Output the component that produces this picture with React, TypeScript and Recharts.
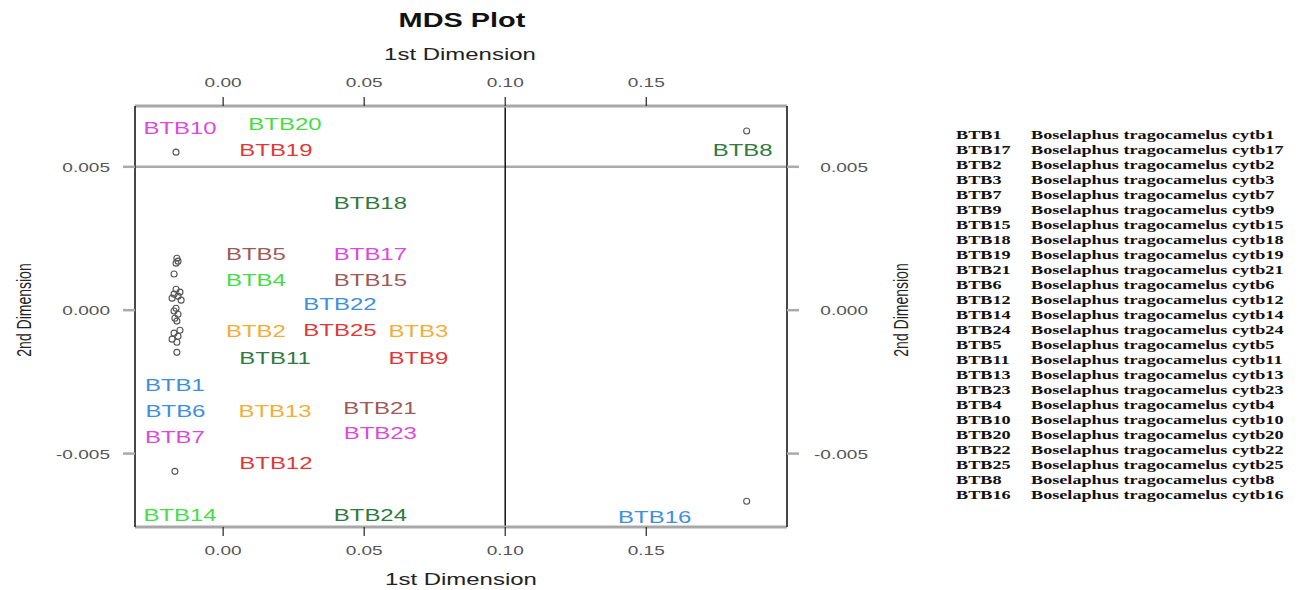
import { ReferenceLine, Scatter, ScatterChart, XAxis, YAxis } from "recharts";

// MDS coordinates of the 25 samples (1st dimension, 2nd dimension)
const pointX = [
  -0.0167, 0.1856, 0.1856, -0.0171,
  -0.0164, -0.016, -0.0167, -0.0174, -0.0167, -0.0153, -0.0174, -0.016, -0.0181, -0.0149,
  -0.0167, -0.0174, -0.016, -0.0171, -0.0164, -0.0153, -0.0174, -0.016, -0.0181, -0.0164, -0.0164,
];
const pointY = [
  0.00551, 0.00625, -0.00666, -0.00562,
  0.00181, 0.00171, 0.00164, 0.00126, 0.00073, 0.00063, 0.00056, 0.00049, 0.00042, 0.00035,
  0.00007, -0.00003, -0.00014, -0.00028, -0.00038, -0.0007, -0.0008, -0.00091, -0.00101, -0.00112, -0.00147,
];

// sample labels and where they were placed
const labelNames = [
  "BTB10", "BTB20", "BTB19", "BTB8", "BTB18", "BTB5", "BTB17", "BTB4", "BTB15",
  "BTB22", "BTB2", "BTB25", "BTB3", "BTB11", "BTB9", "BTB1", "BTB6", "BTB13",
  "BTB21", "BTB7", "BTB23", "BTB12", "BTB14", "BTB24", "BTB16",
];
const labelX = [
  -0.0153, 0.0219, 0.0187, 0.1842, 0.0522, 0.0116, 0.0522, 0.0116, 0.0522,
  0.0414, 0.0116, 0.0414, 0.0692, 0.0184, 0.0692, -0.0171, -0.0169, 0.0184,
  0.0556, -0.0171, 0.0557, 0.0187, -0.0153, 0.0522, 0.153,
];
const labelY = [
  0.00635, 0.00649, 0.00558, 0.00558, 0.00373, 0.00195, 0.00195, 0.00105, 0.00105,
  0.00021, -0.00073, -0.0007, -0.00073, -0.00167, -0.00167, -0.00262, -0.00352, -0.00352,
  -0.00342, -0.00443, -0.00429, -0.00534, -0.00715, -0.00715, -0.00722,
];
// colour group of each label
const labelGroup = [
  0, 1, 2, 3, 3, 4, 0, 1, 4,
  5, 6, 2, 6, 3, 2, 5, 5, 6,
  4, 0, 0, 2, 1, 3, 5,
];

const legendIds = [
  1, 17, 2, 3, 7, 9, 15, 18, 19, 21, 6, 12, 14, 24, 5, 11, 13, 23, 4, 10, 20, 22, 25, 8, 16,
];

const xTicks = [0, 0.05, 0.1, 0.15];
const yTicks = [-0.005, 0, 0.005];
const xRange = [-0.03125, 0.1999];
const yRange = [-0.00756, 0.00712];

const palette = ["#dc4adc", "#46dc46", "#e03838", "#2f7a3c", "#a05a55", "#3f8fe0", "#f2ae36"];
const SX = 1.41;
const SANS = "'Liberation Sans', Arial, sans-serif";

const points = pointX.map((x, i) => ({ x, y: pointY[i] }));
const labels = labelNames.map((name, i) => ({
  x: labelX[i],
  y: labelY[i],
  name,
  group: labelGroup[i],
}));

const tickText = (x: number, y: number, text: string, anchor: string) => (
  <text
    transform={`translate(${x},${y}) scale(${SX},1)`}
    textAnchor={anchor}
    fontSize={13.5}
    fontFamily={SANS}
    fill="#555"
  >
    {text}
  </text>
);

const TopTick = (p: any) => tickText(p.x, p.y - 10, p.payload.value.toFixed(2), "middle");
const BottomTick = (p: any) => tickText(p.x, p.y + 19, p.payload.value.toFixed(2), "middle");
const LeftTick = (p: any) => tickText(p.x - 13, p.y + 5, p.payload.value.toFixed(3), "end");
const RightTick = (p: any) => tickText(p.x + 69, p.y + 5, p.payload.value.toFixed(3), "end");

const Ring = (p: any) => (
  <circle cx={p.cx} cy={p.cy} r={3} fill="none" stroke="#555" strokeWidth={1.1} />
);

const Tag = (p: any) => (
  <text
    transform={`translate(${p.cx},${p.cy + 6}) scale(${SX},1)`}
    textAnchor="middle"
    fontSize={17}
    fontFamily={SANS}
    fill={palette[p.payload.group]}
  >
    {p.payload.name}
  </text>
);

const xAxisLine = { stroke: "#a8a8a8", strokeWidth: 3 };
const yAxisLine = { stroke: "#333", strokeWidth: 1.8 };
const xTickLine = { stroke: "#222", strokeWidth: 1.2 };
const yTickLine = { stroke: "#aaa", strokeWidth: 2.5 };

export default function App() {
  return (
    <div style={{ position: "absolute", left: 0, top: 0, width: 1302, height: 590, background: "#fff" }}>
      <ScatterChart width={1302} height={590} margin={{ top: 6, right: 5, bottom: 5, left: 5 }}>
        <XAxis
          xAxisId="bottom"
          type="number"
          dataKey="x"
          orientation="bottom"
          height={58}
          domain={xRange}
          allowDataOverflow
          ticks={xTicks}
          interval={0}
          tickSize={9}
          tickMargin={0}
          tick={BottomTick}
          axisLine={xAxisLine}
          tickLine={xTickLine}
        />
        <XAxis
          xAxisId="top"
          type="number"
          dataKey="x"
          orientation="top"
          height={100}
          domain={xRange}
          allowDataOverflow
          ticks={xTicks}
          interval={0}
          tickSize={9}
          tickMargin={0}
          tick={TopTick}
          axisLine={xAxisLine}
          tickLine={xTickLine}
        />
        <YAxis
          yAxisId="left"
          type="number"
          dataKey="y"
          width={130}
          domain={yRange}
          allowDataOverflow
          ticks={yTicks}
          interval={0}
          tickSize={12}
          tickMargin={0}
          tick={LeftTick}
          axisLine={yAxisLine}
          tickLine={yTickLine}
        />
        <YAxis
          yAxisId="right"
          type="number"
          dataKey="y"
          orientation="right"
          width={510}
          domain={yRange}
          allowDataOverflow
          ticks={yTicks}
          interval={0}
          tickSize={12}
          tickMargin={0}
          tick={RightTick}
          axisLine={yAxisLine}
          tickLine={yTickLine}
        />
        <ReferenceLine xAxisId="bottom" yAxisId="left" y={0.005} stroke="#aaa" strokeWidth={2.5} />
        <ReferenceLine xAxisId="bottom" yAxisId="left" x={0.1} stroke="#111" strokeWidth={1.5} />
        <Scatter
          xAxisId="bottom"
          yAxisId="left"
          data={points}
          shape={Ring}
          isAnimationActive={false}
        />
        <Scatter
          xAxisId="top"
          yAxisId="right"
          data={labels}
          shape={Tag}
          isAnimationActive={false}
        />
      </ScatterChart>
      <svg
        width={1302}
        height={590}
        style={{ position: "absolute", left: 0, top: 0, pointerEvents: "none" }}
      >
        <text
          transform={`translate(462,27) scale(${SX},1)`}
          textAnchor="middle"
          fontSize={20.5}
          fontWeight="bold"
          fontFamily={SANS}
          fill="#111"
        >
          MDS Plot
        </text>
        <text
          transform={`translate(460,60) scale(${SX},1)`}
          textAnchor="middle"
          fontSize={17}
          fontFamily={SANS}
          fill="#222"
        >
          1st Dimension
        </text>
        <text
          transform={`translate(461,585) scale(${SX},1)`}
          textAnchor="middle"
          fontSize={17}
          fontFamily={SANS}
          fill="#222"
        >
          1st Dimension
        </text>
        <text
          transform={`translate(31,310) scale(${SX},1) rotate(-90)`}
          textAnchor="middle"
          fontSize={14}
          fontFamily={SANS}
          fill="#222"
        >
          2nd Dimension
        </text>
        <text
          transform={`translate(908,310) scale(${SX},1) rotate(-90)`}
          textAnchor="middle"
          fontSize={14}
          fontFamily={SANS}
          fill="#222"
        >
          2nd Dimension
        </text>
        {legendIds.map((id, i) => (
          <g
            key={id}
            fontFamily="'Liberation Serif', 'Times New Roman', serif"
            fontWeight="bold"
            fontSize={13}
            fill="#111"
          >
            <text transform={`translate(956,${139 + i * 15}) scale(1.4,1)`}>{`BTB${id}`}</text>
            <text transform={`translate(1031,${139 + i * 15}) scale(1.4,1)`}>
              {`Boselaphus tragocamelus cytb${id}`}
            </text>
          </g>
        ))}
      </svg>
    </div>
  );
}
